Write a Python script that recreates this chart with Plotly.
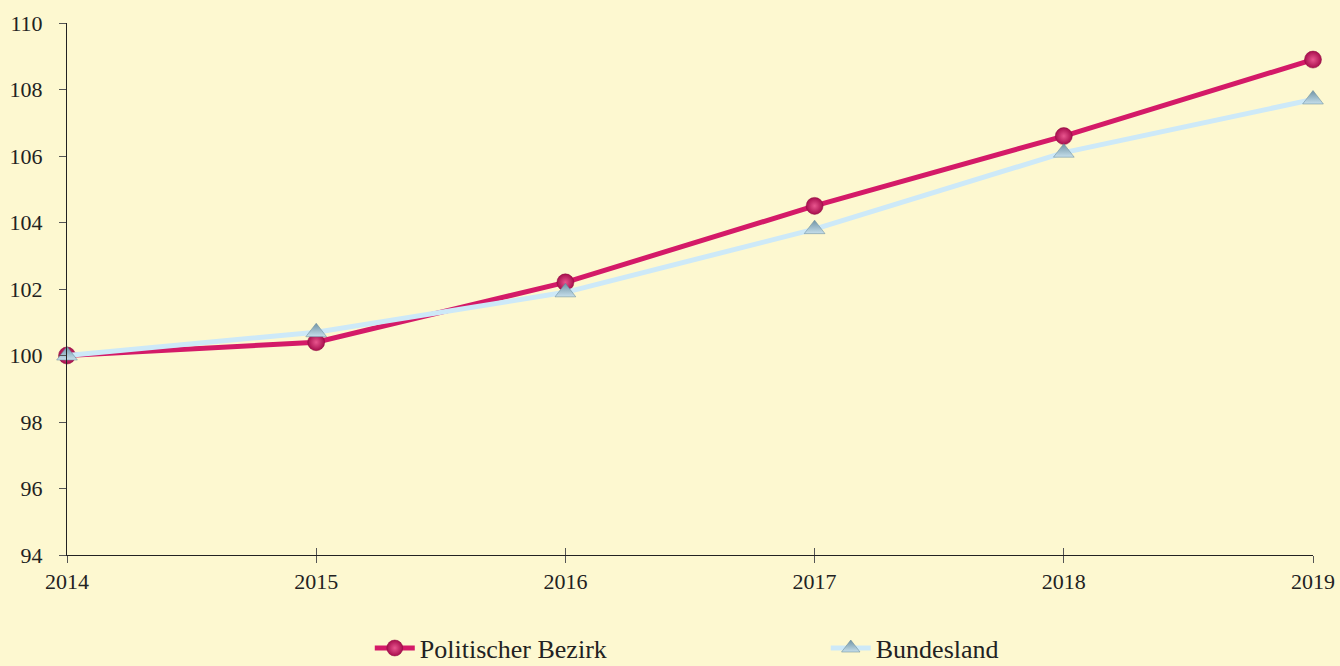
import plotly.graph_objects as go

years = [2014, 2015, 2016, 2017, 2018, 2019]
bezirk = [100.0, 100.4, 102.2, 104.5, 106.6, 108.9]
bundesland = [100.0, 100.7, 101.9, 103.8, 106.1, 107.7]
y_ticks = [94, 96, 98, 100, 102, 104, 106, 108, 110]

BG = "#FDF8D0"
FONT = "Liberation Serif"
TXT = "#222222"

fig = go.Figure()
fig.add_trace(go.Scatter(
    x=years, y=bezirk, name="Politischer Bezirk", mode="lines+markers",
    line=dict(color="#D41A68", width=5),
    marker=dict(symbol="circle", size=17, color="#A80E4D",
                gradient=dict(type="radial", color="#E8558E"),
                line=dict(color="#8E0A40", width=0.5)),
    cliponaxis=False,
))
fig.add_trace(go.Scatter(
    x=years, y=bundesland, name="Bundesland", mode="lines+markers",
    line=dict(color="#CDE9F8", width=5),
    marker=dict(symbol="triangle-up", size=18, color="#6F93A5",
                gradient=dict(type="vertical", color="#C6DFEB"),
                line=dict(color="#5F8596", width=0.5)),
    cliponaxis=False,
))
# helper trace to show inner half of crossing x ticks
fig.add_trace(go.Scatter(x=years, y=bezirk, xaxis="x2", mode="none",
                         showlegend=False, hoverinfo="skip"))

fig.update_layout(
    width=1340, height=666,
    paper_bgcolor=BG, plot_bgcolor=BG,
    margin=dict(l=67, r=27, t=23, b=111, autoexpand=False),
    font=dict(family=FONT, size=22, color=TXT),
    showlegend=True,
    legend=dict(orientation="h", x=0.243, xanchor="left", y=-0.175, yanchor="middle",
                bgcolor="rgba(0,0,0,0)", font=dict(family=FONT, size=26, color=TXT),
                entrywidth=401, entrywidthmode="pixels", itemwidth=40),
    xaxis2=dict(overlaying="x", anchor="y", side="bottom", range=[2014, 2019],
                tickmode="array", tickvals=years, showticklabels=False,
                ticks="inside", ticklen=7, tickcolor="#555555",
                showgrid=False, zeroline=False, showline=False),
)
fig.layout.xaxis.update(range=[2014, 2019], tickmode="array", tickvals=years,
                        ticktext=[str(y) for y in years], showgrid=False, zeroline=False,
                        showline=True, linecolor=TXT, linewidth=1, ticks="outside",
                        ticklen=7, tickcolor="#555555", tickfont=dict(family=FONT, size=22))
fig.layout.yaxis.update(range=[94, 110], tickmode="array", tickvals=y_ticks,
                        showgrid=False, zeroline=False, showline=True, linecolor=TXT,
                        linewidth=1, ticks="outside", ticklen=7, tickcolor="#555555",
                        tickfont=dict(family=FONT, size=22), ticklabelstandoff=12)

fig.write_html("out.html", config={"displayModeBar": False},
               post_script="document.body.style.margin='0';")
